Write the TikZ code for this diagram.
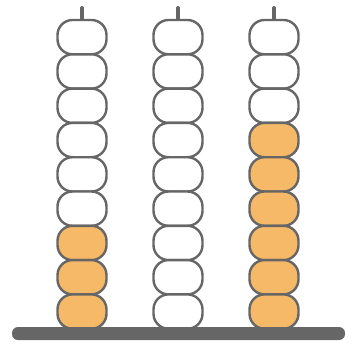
\documentclass[tikz,border=0pt]{standalone}
\usetikzlibrary{positioning}
\definecolor{framegray}{HTML}{666666}
\definecolor{beadorange}{HTML}{F5B968}
\tikzset{
  bead/.style={draw=framegray, line width=2.4pt, rounded corners=15pt,
    minimum width=49pt, minimum height=34.3pt, inner sep=0pt, fill=white},
  filled/.style={fill=beadorange},
  rod/.style={draw=framegray, line width=4pt, line cap=round},
  basebar/.style={fill=framegray, rounded corners=6pt}
}
\begin{document}
\begin{tikzpicture}[x=1pt,y=-1pt]
\useasboundingbox (0,0) rectangle (352,345);
% rods
\foreach \c/\x in {1/82,2/178,3/274}{
  \coordinate (rodtop\c) at (\x,8);
  \coordinate (rodbot\c) at (\x,24);
  \draw[rod] (rodtop\c) -- (rodbot\c);
}
% beads: column, number of filled beads from bottom
\foreach \c/\x/\n in {1/82/3,2/178/0,3/274/6}{
  \foreach \i in {1,...,9}{
    \pgfmathtruncatemacro{\fromb}{10-\i}
    \ifnum\fromb>\n
      \node[bead] (b\c-\i) at (\x,{20+34.3*(\i-0.5)}) {};
    \else
      \node[bead,filled] (b\c-\i) at (\x,{20+34.3*(\i-0.5)}) {};
    \fi
  }
}
% base
\node[basebar, minimum width=333pt, minimum height=13pt, inner sep=0pt] (base) at (178.5,333.5) {};
\end{tikzpicture}
\end{document}
